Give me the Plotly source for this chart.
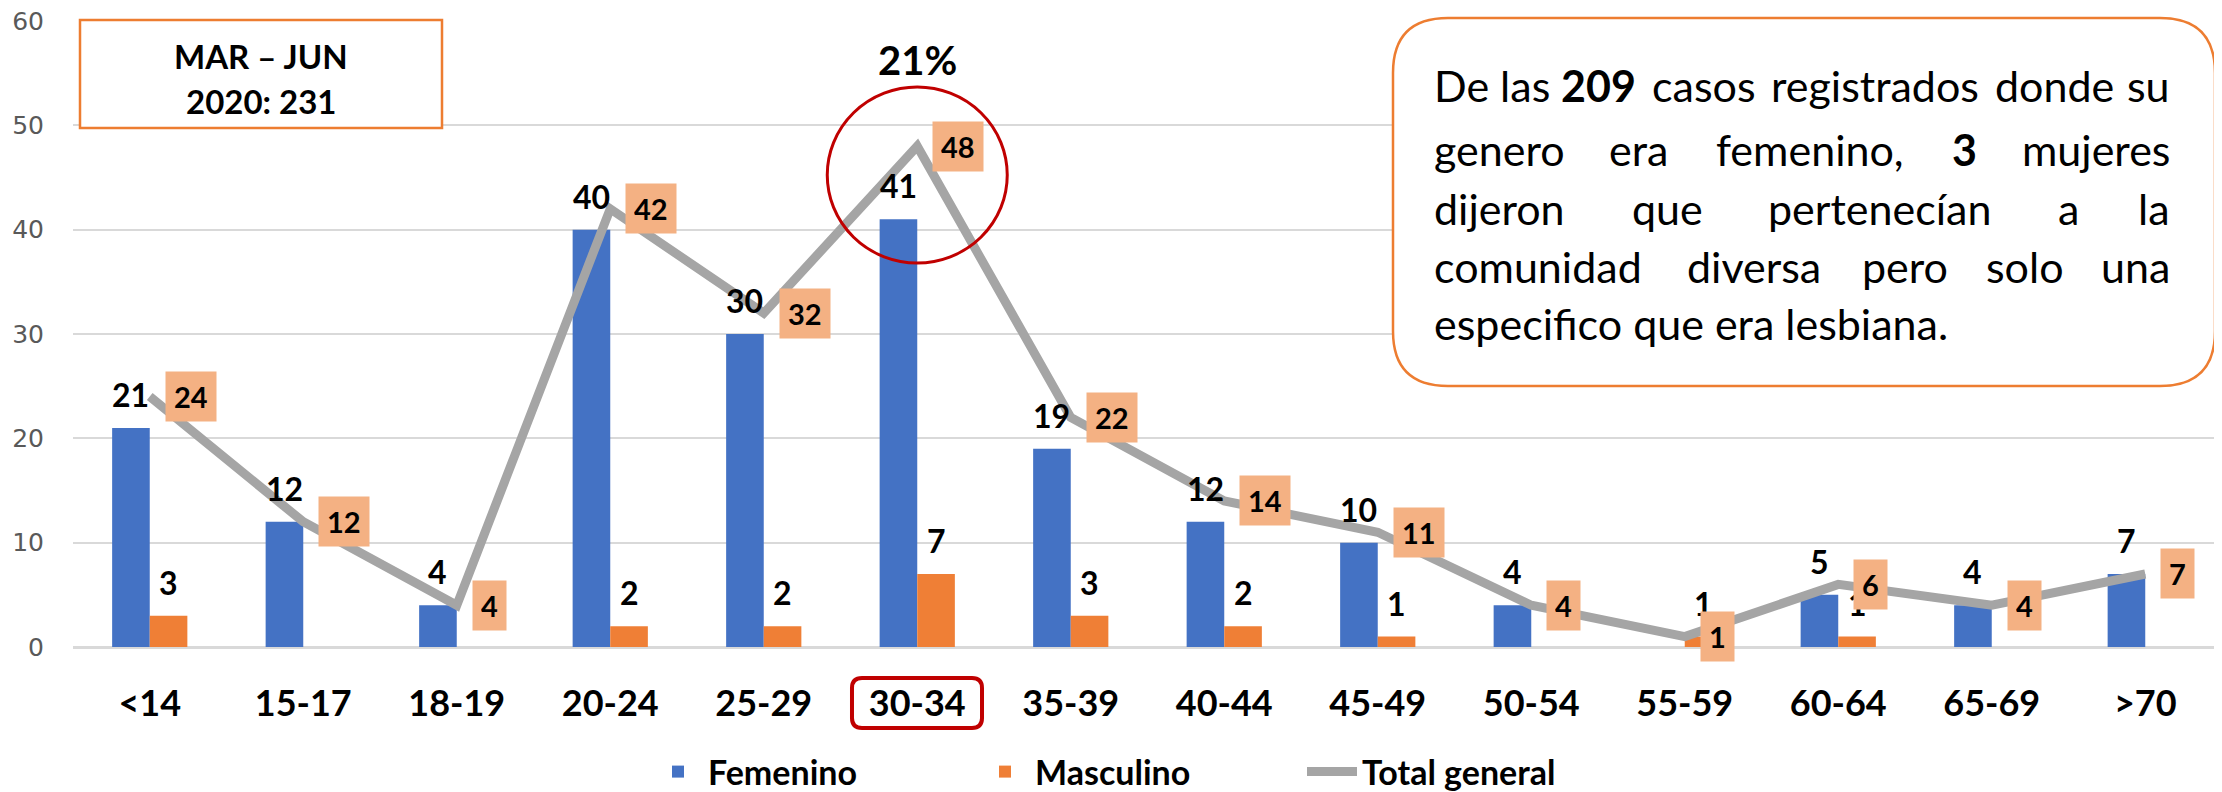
import plotly.graph_objects as go

# ---------------- data ----------------
categories = ["<14", "15-17", "18-19", "20-24", "25-29", "30-34", "35-39",
              "40-44", "45-49", "50-54", "55-59", "60-64", "65-69", ">70"]
femenino = [21, 12, 4, 40, 30, 41, 19, 12, 10, 4, 0, 5, 4, 7]
masculino = [3, 0, 0, 2, 2, 7, 3, 2, 1, 0, 1, 1, 0, 0]
total_general = [24, 12, 4, 42, 32, 48, 22, 14, 11, 4, 1, 6, 4, 7]
y_ticks = [0, 10, 20, 30, 40, 50, 60]
highlight = "30-34"
highlight_pct = "21%"
period_lines = ["MAR – JUN", "2020: 231"]
note_lines = [
    ["De las", "<b>209</b>", "casos", "registrados", "donde", "su"],
    ["genero", "era", "femenino,", "<b>3</b>", "mujeres"],
    ["dijeron", "que", "pertenecían", "a", "la"],
    ["comunidad", "diversa", "pero", "solo", "una"],
    ["especifico que era lesbiana."],
]

# ---------------- layout geometry (screen pixels) ----------------
W, H = 2222, 792
OFF = 8                      # default page body margin
PLOT_L, PLOT_R, PLOT_T, PLOT_B = 73, 2222, 21, 647   # screen coords
L = PLOT_L - OFF
T = PLOT_T - OFF
R = W - (PLOT_R - OFF)
B = H - (PLOT_B - OFF)
PW, PH = PLOT_R - PLOT_L, PLOT_B - PLOT_T


def px(x):
    return (x - PLOT_L) / PW


def py(y):
    return (PLOT_B - y) / PH


FONT = "Lato"
BLUE = "#4472C4"
ORANGE = "#EF7F36"
GRAY = "#A5A5A5"
BOXFILL = "#F4B183"
RED = "#C00000"

fig = go.Figure()
fig.add_trace(go.Bar(x=categories, y=femenino, name="Femenino",
                     marker=dict(color=BLUE, line=dict(width=0))))
fig.add_trace(go.Bar(x=categories, y=masculino, name="Masculino",
                     marker=dict(color=ORANGE, line=dict(width=0))))
fig.add_trace(go.Scatter(x=categories, y=total_general, mode="lines",
                         name="Total general",
                         line=dict(color=GRAY, width=9)))

annotations = []
band = PW / len(categories)
half = band * 0.49 / 4  # centre offset of each bar in the group

lab_font = dict(family=FONT, size=32, color="black", weight="bold")
for i, c in enumerate(categories):
    if femenino[i] > 0:
        annotations.append(dict(x=c, y=femenino[i], xref="x", yref="y",
                                text=str(femenino[i]), showarrow=False,
                                xshift=-half, yshift=12, yanchor="bottom",
                                font=lab_font))
    if masculino[i] > 0:
        annotations.append(dict(x=c, y=masculino[i], xref="x", yref="y",
                                text=str(masculino[i]), showarrow=False,
                                xshift=half, yshift=12, yanchor="bottom",
                                font=lab_font))
for i, c in enumerate(categories):
    annotations.append(dict(x=c, y=total_general[i], xref="x", yref="y",
                            text=str(total_general[i]), showarrow=False,
                            xanchor="left", yanchor="middle", xshift=15,
                            bgcolor=BOXFILL, borderpad=8, height=33,
                            font=dict(family=FONT, size=29, color="black",
                                      weight="bold")))

# 21% above the highlighted category
annotations.append(dict(x=highlight, y=py(60), xref="x", yref="paper",
                        text=highlight_pct, showarrow=False, yanchor="middle",
                        font=dict(family=FONT, size=40, color="black",
                                  weight="bold")))

# period box text
for line, ycen in zip(period_lines, [56, 101]):
    annotations.append(dict(x=px(261), y=py(ycen), xref="paper", yref="paper",
                            text=line, showarrow=False, xanchor="center",
                            yanchor="middle",
                            font=dict(family=FONT, size=33, color="black",
                                      weight="bold")))

# note text (justified word by word)
baselines = [100, 164, 223, 281, 338]
word_pos = [
    [("l", 1432), ("c", 1598), ("c", 1704), ("c", 1875),
     ("c", 2054), ("r", 2172)],
    [("l", 1432), ("c", 1638), ("c", 1810), ("c", 1964), ("r", 2172)],
    [("l", 1432), ("c", 1667), ("c", 1880), ("c", 2068), ("r", 2172)],
    [("l", 1432), ("c", 1754), ("c", 1905), ("c", 2025), ("r", 2172)],
    [("l", 1432)],
]
anchor_map = {"l": "left", "c": "center", "r": "right"}
for words, poss, base in zip(note_lines, word_pos, baselines):
    for w, (a, xp) in zip(words, poss):
        annotations.append(dict(x=px(xp), y=py(base - 15), xref="paper",
                                yref="paper", text=w, showarrow=False,
                                xanchor=anchor_map[a], yanchor="middle",
                                font=dict(family=FONT, size=43,
                                          color="black")))


def rounded_path(x0, y0, x1, y1, r):
    pts = [("M", [(x0 + r, y0)]), ("L", [(x1 - r, y0)]),
           ("Q", [(x1, y0), (x1, y0 + r)]), ("L", [(x1, y1 - r)]),
           ("Q", [(x1, y1), (x1 - r, y1)]), ("L", [(x0 + r, y1)]),
           ("Q", [(x0, y1), (x0, y1 - r)]), ("L", [(x0, y0 + r)]),
           ("Q", [(x0, y0), (x0 + r, y0)])]
    s = ""
    for cmd, ps in pts:
        s += cmd + " " + " ".join(f"{px(a):.5f},{py(b):.5f}" for a, b in ps) + " "
    return s + "Z"


shapes = [
    dict(type="rect", xref="paper", yref="paper", x0=px(80), x1=px(442),
         y0=py(128), y1=py(20), line=dict(color="#ED7D31", width=2.5),
         fillcolor="white", layer="above"),
    dict(type="path", xref="paper", yref="paper",
         path=rounded_path(1393, 18, 2215, 386, 55),
         line=dict(color="#ED7D31", width=2.5), fillcolor="white",
         layer="above"),
    dict(type="circle", xref="x", yref="paper",
         x0=categories.index(highlight) - 90 / band,
         x1=categories.index(highlight) + 90 / band,
         y0=py(263), y1=py(87), line=dict(color=RED, width=3)),
    dict(type="path", xref="paper", yref="paper",
         path=rounded_path(852, 678, 982, 728, 10),
         line=dict(color=RED, width=4)),
]

fig.update_layout(
    width=W, height=H,
    margin=dict(l=L, r=R, t=T, b=B, pad=0, autoexpand=False),
    paper_bgcolor="white", plot_bgcolor="white",
    barmode="group", bargap=0.51, bargroupgap=0,
    showlegend=True,
    legend=dict(orientation="h", xref="container", yref="container",
                x=(672 - 2 * OFF - 16) / W, xanchor="left",
                y=(H - (772 - OFF)) / H, yanchor="middle", entrywidth=262,
                itemwidth=50,
                font=dict(family=FONT, size=34, color="black",
                          weight="bold"),
                bgcolor="rgba(0,0,0,0)"),
    xaxis=dict(type="category", showgrid=False, showline=False,
               automargin=False, ticks="", ticklabelstandoff=32,
               tickfont=dict(family=FONT, size=36, color="black",
                             weight="bold")),
    yaxis=dict(range=[0, 60], tickvals=y_ticks, showgrid=True,
               automargin=False, ticklabeloverflow="allow",
               gridcolor="#D9D9D9", gridwidth=1.5, zeroline=True,
               zerolinecolor="#D9D9D9", zerolinewidth=2.5,
               showline=False, ticks="", ticklabelstandoff=28,
               tickfont=dict(family="DejaVu Sans", size=25,
                             color="#595959")),
    annotations=annotations,
    shapes=shapes,
)

fig.write_html("out.html")
